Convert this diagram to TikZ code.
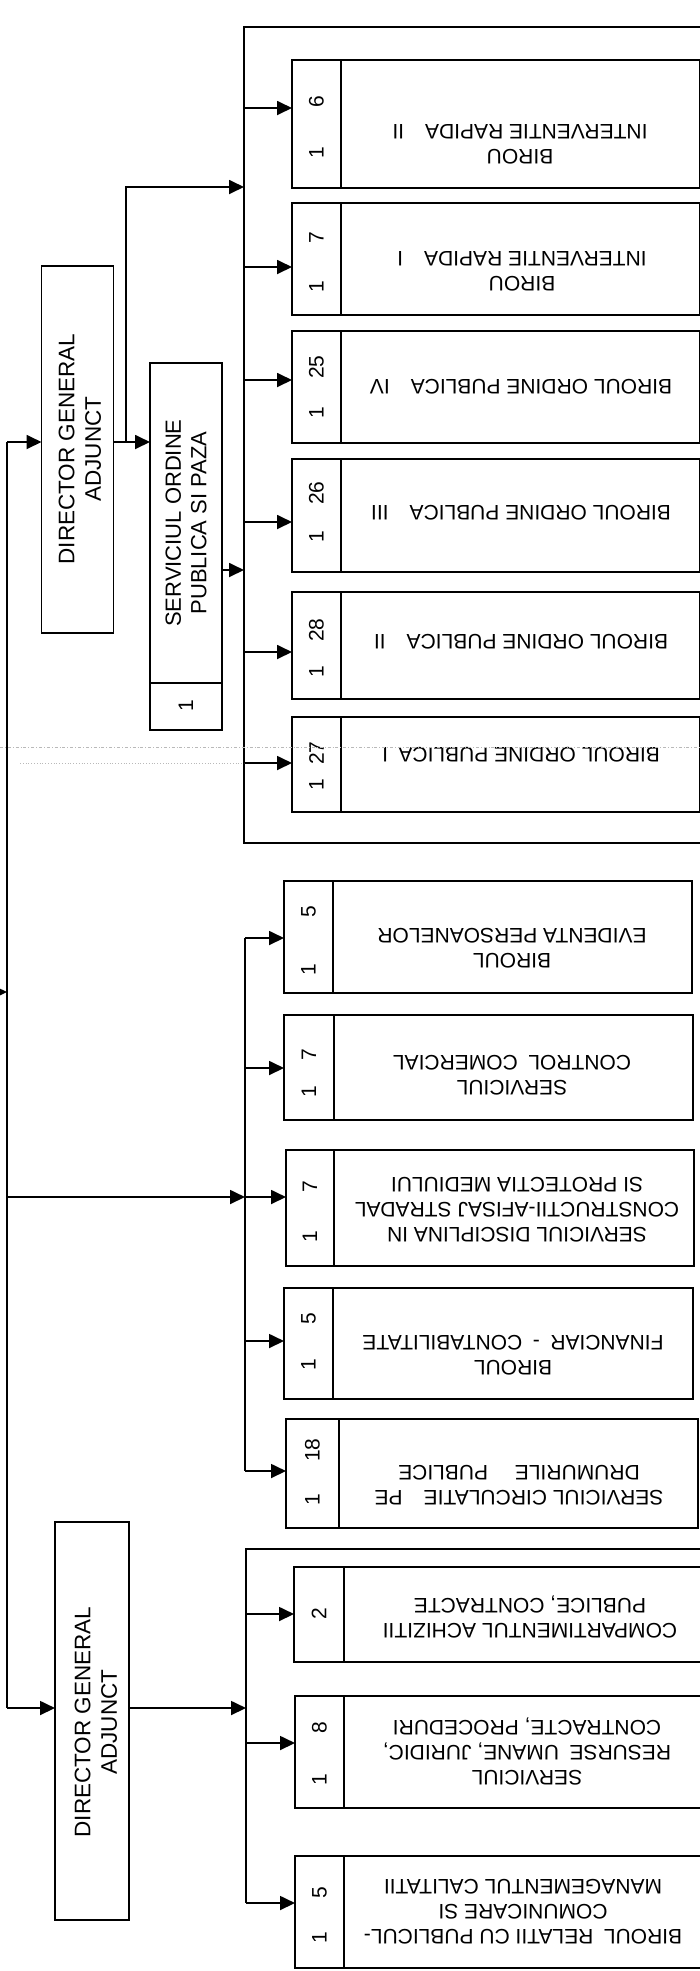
\documentclass[tikz,border=0pt]{standalone}
\usepackage{fontspec}
\setmainfont{Liberation Sans}
\usetikzlibrary{arrows.meta}
\newcommand\obox[6]{%
  \node[box, minimum width={(#4-#2)*1pt}, minimum height={(#6-#5)*1pt}] (#1) at (#2,#5) {};
  \draw[divl] (#3,#5) -- (#3,#6);
}
\newcommand\oin[3]{\coordinate (#1-in) at (#2,#3);}
\begin{document}
\begin{tikzpicture}[x=1pt,y=-1pt,
  box/.style={draw, line width=1.8pt, inner sep=0pt, outer sep=0pt, anchor=north west},
  divl/.style={line width=1.5pt},
  conn/.style={line width=1.8pt},
  arr/.style={line width=1.8pt, -{Triangle[length=15pt,width=14pt]}},
  lbl/.style={font=\fontsize{21}{25}\selectfont, align=center, rotate=180, inner sep=0pt},
  num/.style={font=\fontsize{21}{25}\selectfont, rotate=90, inner sep=0pt},
  vlbl/.style={font=\fontsize{22.5}{26.5}\selectfont, align=center, rotate=90, inner sep=0pt},
  artif/.style={gray!55, line width=0.8pt},
]
\useasboundingbox (0,0) rectangle (700,1971);
\clip (0,0) rectangle (700,1971);

% bus coordinates
\coordinate (busA) at (244,0);
\coordinate (busB) at (245,0);
\coordinate (busC) at (246,0);

% ---------- left column boxes ----------
\node[box, minimum width=72pt, minimum height=367pt] (dga1) at (41.5,266) {};
\node[vlbl] (dga1-t) at (80,449) {DIRECTOR GENERAL\\ADJUNCT};

\node[box, minimum width=72pt, minimum height=367pt] (serv) at (150,363) {};
\draw[divl] (150,683) -- (222,683);
\node[vlbl, font=\fontsize{22}{25.5}\selectfont] (serv-t) at (186,523) {SERVICIUL ORDINE\\PUBLICA SI PAZA};
\node[num] (serv-o) at (186,706) {1};

\node[box, minimum width=74pt, minimum height=398pt] (dga2) at (55,1522) {};
\node[vlbl] (dga2-t) at (96,1722) {DIRECTOR GENERAL\\ADJUNCT};

% ---------- bracket A (top group) ----------
\draw[conn] (720,27) -- (244,27) -- (244,843) -- (720,843);

\obox{b1}{292}{341}{699.5}{60}{188}
\node[lbl] at (520,144) {BIROU\\INTERVENTIE RAPIDA\quad II};
\node[num] at (316.5,102) {6};
\node[num] at (316.5,153) {1};
\oin{b1}{292}{108}

\obox{b2}{292}{341}{699.5}{203}{315}
\node[lbl] at (522,271) {BIROU\\INTERVENTIE RAPIDA\quad I};
\node[num] at (316.5,238) {7};
\node[num] at (316.5,287) {1};
\oin{b2}{292}{267}

\obox{b3}{292}{341}{699.5}{331}{443}
\node[lbl] at (521,387) {BIROUL ORDINE PUBLICA\quad IV};
\node[num] at (316.5,367) {25};
\node[num] at (316.5,413) {1};
\oin{b3}{292}{380}

\obox{b4}{292}{341}{699.5}{459}{572}
\node[lbl] at (521,513) {BIROUL ORDINE PUBLICA\quad III};
\node[num] at (316.5,493) {26};
\node[num] at (316.5,537) {1};
\oin{b4}{292}{522}

\obox{b5}{292}{341}{699.5}{592}{699}
\node[lbl] at (521,642) {BIROUL ORDINE PUBLICA\quad II};
\node[num] at (316.5,630) {28};
\node[num] at (316.5,672) {1};
\oin{b5}{292}{652}

\obox{b6}{292}{341}{699.5}{717}{812}
\node[lbl] at (521,755) {BIROUL ORDINE PUBLICA\enspace I};
\node[num] at (316.5,753) {27};
\node[num] at (316.5,785) {1};
\oin{b6}{292}{763}

% ---------- middle group ----------
\obox{b7}{284}{333}{692}{881}{993}
\node[lbl] at (512,948) {BIROUL\\EVIDENTA PERSOANELOR};
\node[num] at (308.5,912) {5};
\node[num] at (308.5,970) {1};
\oin{b7}{284}{938}

\obox{b8}{284}{334}{693}{1015}{1120}
\node[lbl] at (512,1075) {SERVICIUL\\CONTROL\enspace COMERCIAL};
\node[num] at (309,1055) {7};
\node[num] at (309,1092) {1};
\oin{b8}{284}{1068}

\obox{b9}{286}{334}{694}{1150}{1266}
\node[lbl] at (517,1210) {SERVICIUL DISCIPLINA IN\\CONSTRUCTII-AFISAJ STRADAL\\SI PROTECTIA MEDIULUI};
\node[num] at (310,1187) {7};
\node[num] at (310,1237) {1};
\oin{b9}{286}{1197}

\obox{b10}{284}{333}{693}{1288}{1399}
\node[lbl] at (513,1355) {BIROUL\\FINANCIAR\enspace -\enspace CONTABILITATE};
\node[num] at (308.5,1319) {5};
\node[num] at (308.5,1365) {1};
\oin{b10}{284}{1341}

\obox{b11}{286}{339}{698}{1419}{1528}
\node[lbl] at (519,1485) {SERVICIUL CIRCULATIE\quad PE\\DRUMURILE\quad\ PUBLICE};
\node[num] at (312.5,1450) {18};
\node[num] at (312.5,1500) {1};
\oin{b11}{286}{1471}

% ---------- bottom group (bracket B) ----------
\obox{b12}{294}{344}{730}{1567}{1662}
\node[lbl] at (530,1617) {COMPARTIMENTUL ACHIZITII\\PUBLICE, CONTRACTE};
\node[num] at (319,1614) {2};
\oin{b12}{294}{1614}

\obox{b13}{295}{344}{730}{1696}{1808}
\node[lbl] at (527,1751) {SERVICIUL\\RESURSE\enspace UMANE, JURIDIC,\\CONTRACTE, PROCEDURI};
\node[num] at (319.5,1728) {8};
\node[num] at (319.5,1780) {1};
\oin{b13}{295}{1743}

\obox{b14}{295}{344}{730}{1856}{1968}
\node[lbl] at (523,1912) {BIROUL\enspace RELATII CU PUBLICUL-\\COMUNICARE SI\\MANAGEMENTUL CALITATII};
\node[num] at (319.5,1893) {5};
\node[num] at (319.5,1938) {1};
\oin{b14}{295}{1903}

% ---------- connectors ----------
\coordinate (tTop) at (7,442);
\coordinate (tExt) at (7,992);
\coordinate (tMid) at (7,1197);
\coordinate (tBot) at (7,1708);
\coordinate (ext) at (-14,992);
\draw[conn] (tTop) -- (tBot);
\draw[arr] (ext) -- (tExt);
\draw[arr] (tTop) -- (dga1.west |- tTop);
\draw[arr] (tBot) -- (dga2.west |- tBot);

% DGA1 -> serviciul and bracket A
\coordinate (jn) at (126,442);
\coordinate (jn2) at (126,187);
\draw[arr] (dga1.east |- tTop) -- (serv.west |- tTop);
\draw[arr] (jn) -- (jn2) -- (busA |- jn2);
\coordinate (sout) at (222,570);
\draw[arr] (sout) -- (busA |- sout);
\foreach \b in {b1,b2,b3,b4,b5,b6} \draw[arr] (busA |- \b-in) -- (\b-in);

% main line -> middle group
\draw[conn] (busB |- b7-in) -- (busB |- b11-in);
\draw[arr] (tMid) -- (busB |- tMid);
\foreach \b in {b7,b8,b9,b10,b11} \draw[arr] (busB |- \b-in) -- (\b-in);

% DGA2 -> bottom group
\coordinate (brB) at (246,1549);
\draw[conn] (730,1549) -- (brB) -- (busC |- b14-in);
\draw[arr] (dga2.east |- tBot) -- (busC |- tBot);
\foreach \b in {b12,b13,b14} \draw[arr] (busC |- \b-in) -- (\b-in);

% scan artefact lines
\draw[artif, dash dot] (0,747) -- (700,747);
\draw[artif, dotted] (20,763) -- (244,763);
\end{tikzpicture}
\end{document}
